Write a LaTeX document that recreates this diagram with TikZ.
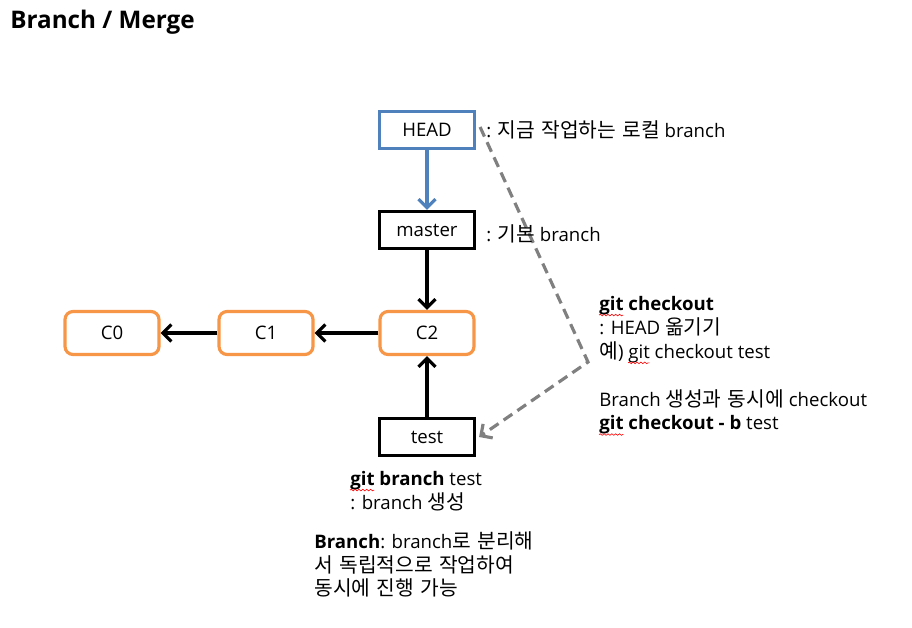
\documentclass[tikz,border=0pt]{standalone}
\usepackage{fontspec}
\setmainfont{Open Sans}
\newfontfamily\kr[Scale=1.09, WordSpace=1.4]{Noto Sans CJK KR}
\usepackage{xcolor}
\usetikzlibrary{arrows.meta,positioning,calc,decorations.pathmorphing}

\definecolor{headblue}{HTML}{4F81BD}
\definecolor{commitorange}{HTML}{F79646}
\definecolor{dashgray}{HTML}{808080}

% red wavy spell-check underline
\newsavebox{\wavebox}
\newcommand{\redwave}[1]{\sbox\wavebox{#1}\usebox\wavebox\llap{\smash{\tikz[baseline=0pt]\draw[red, line width=0.35pt, decorate, decoration={snake, amplitude=0.45pt, segment length=2.2pt}] (0pt,-2.6pt) -- (\wd\wavebox,-2.6pt);}}}

\begin{document}
\begin{tikzpicture}[x=0.02cm, y=-0.02cm,
    refbox/.style={rectangle, draw=black, line width=1.8pt, fill=white, minimum width=1.9cm, minimum height=0.74cm, font=\fontsize{10.6}{13}\selectfont, inner sep=2pt},
    headbox/.style={refbox, draw=headblue},
    commit/.style={rectangle, rounded corners=0.16cm, draw=commitorange, line width=1.8pt, fill=white, minimum width=1.88cm, minimum height=0.86cm, font=\fontsize{10.6}{13}\selectfont},
    arrow/.style={-{Straight Barb[length=1.7mm, width=3.4mm]}, line width=1.8pt, black},
    darrow/.style={-{Straight Barb[length=1.7mm, width=3.4mm]}, line width=1.8pt, dashgray, dash pattern=on 6pt off 3.5pt},
    note/.style={anchor=north west, align=left, inner sep=0pt, font=\fontsize{10.6}{13.6}\selectfont}
  ]
    \useasboundingbox (0,0) rectangle (912,628);

    % --- TITLE ---
    \node[anchor=west, font=\fontsize{13.8}{16}\selectfont\bfseries, inner sep=0pt] (title) at (10,22) {Branch / Merge};

    % --- REFERENCES ---
    \node[headbox] (head) at (427,130) {HEAD};
    \node[refbox] (master) at (427,230) {master};
    \node[refbox] (test) at (427,437) {test};

    % --- COMMITS ---
    \node[commit] (c2) at (427,333) {C2};
    \node[commit] (c1) at (266,333) {C1};
    \node[commit] (c0) at (112,333) {C0};

    \draw[arrow, headblue] (head) -- (master);
    \draw[arrow] (master) -- (c2);
    \draw[arrow] (test) -- (c2);
    \draw[arrow] (c2) -- (c1);
    \draw[arrow] (c1) -- (c0);

    % --- CHECKOUT MOVES HEAD ---
    \coordinate (bend) at (588,362);
    \draw[darrow] ($(head.east)+(4,-3)$) -- (bend) -- ($(test.east)+(3,0)$);

    % --- NOTES ---
    \node[note, anchor=west] (headnote) at (486,130) {: {\kr 지금 작업하는 로컬} branch};
    \node[note, anchor=west] (masternote) at (486,234) {: {\kr 기본} branch};
    \node[note] (checkoutnote) at (599,296) {{\bfseries\redwave{git} checkout}\\: HEAD {\kr 옮기기}\\{\kr 예}) \redwave{git} checkout test\\[13.6pt]Branch {\kr 생성과 동시에} checkout\\{\bfseries\redwave{git} checkout - b} test};
    \node[note] (branchnote) at (350,471) {{\bfseries\redwave{git} branch} test\\: branch {\kr 생성}};
    \node[note] (branchdesc) at (314,531) {{\bfseries Branch}: branch{\kr 로 분리해}\\{\kr 서 독립적으로 작업하여}\\{\kr 동시에 진행 가능}};
\end{tikzpicture}
\end{document}
